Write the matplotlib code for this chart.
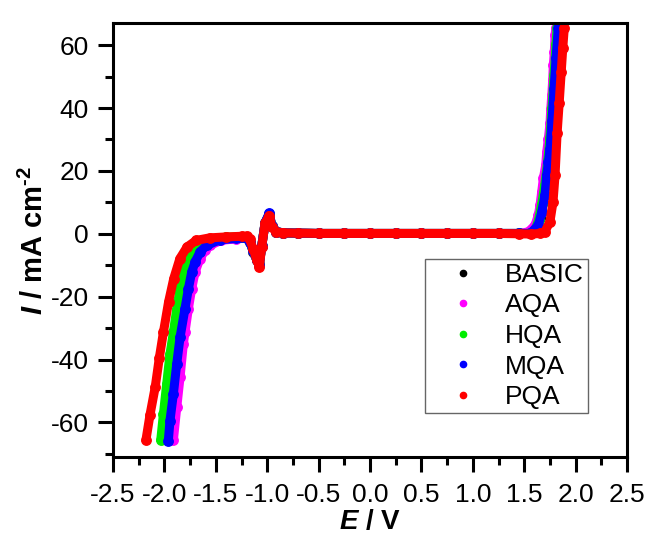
import matplotlib
matplotlib.use("Agg")
import matplotlib.pyplot as plt
from matplotlib.lines import Line2D
from matplotlib.ticker import MultipleLocator, FormatStrFormatter

plt.rcParams['font.family'] = ['Liberation Sans', 'DejaVu Sans']
plt.rcParams['axes.unicode_minus'] = False
plt.rcParams['mathtext.fontset'] = 'custom'
plt.rcParams['mathtext.rm'] = 'Liberation Sans:bold'
plt.rcParams['mathtext.bf'] = 'Liberation Sans:bold'
plt.rcParams['mathtext.it'] = 'Liberation Sans:italic'
plt.rcParams['mathtext.bfit'] = 'Liberation Sans:italic:bold'

# potentiodynamic curves, E in V, I in mA cm-2
names = ['BASIC', 'AQA', 'HQA', 'MQA', 'PQA']
colors = ['#000000', '#ff00ff', '#00ee00', '#0000ff', '#ff0000']

E_basic = [-1.972, -1.956, -1.923, -1.89, -1.858, -1.81, -1.777, -1.745, -1.712, -1.664, -1.60, -1.47, -1.30,
           -1.20, -1.17, -1.135, -1.10, -1.077, -1.054, -1.021, -0.98, -0.956, -0.91, -0.85, -0.70, -0.50, -0.25,
           0.0, 0.25, 0.50, 0.75, 1.0, 1.25, 1.45, 1.56, 1.62, 1.65, 1.68, 1.71, 1.74, 1.76, 1.78, 1.80, 1.815, 1.825]
I_basic = [-65.6, -59.4, -50.9, -41.3, -32.9, -23.8, -17.5, -12.2, -9.0, -5.8, -3.7, -1.9, -1.5,
           -1.3, -2.5, -5.8, -8.5, -9.5, -4.0, 3.5, 6.3, 2.5, 0.7, 0.3, 0.2, 0.1, 0.1,
           0.1, 0.1, 0.1, 0.1, 0.1, 0.1, 0.1, 0.1, 1.8, 5.0, 10.0, 16.5, 25.0, 33.0, 43.0, 54.0, 61.5, 65.6]

E_aqa = [-1.913, -1.88, -1.848, -1.816, -1.80, -1.767, -1.735, -1.702, -1.654, -1.605, -1.556, -1.45, -1.30,
         -1.20, -1.17, -1.135, -1.10, -1.077, -1.054, -1.021, -0.98, -0.956, -0.91, -0.85, -0.70, -0.50, -0.25,
         0.0, 0.25, 0.50, 0.75, 1.0, 1.25, 1.45, 1.54, 1.605, 1.637, 1.654, 1.670, 1.686, 1.709, 1.719, 1.735,
         1.751, 1.758, 1.768, 1.777, 1.783, 1.793, 1.800, 1.809]
I_aqa = [-65.6, -55.2, -45.6, -35.0, -31.3, -23.8, -17.5, -12.2, -7.9, -5.3, -3.7, -2.1, -1.6,
         -1.4, -2.5, -5.5, -8.5, -10.0, -4.0, 3.5, 6.3, 2.5, 0.7, 0.3, 0.2, 0.1, 0.1,
         0.1, 0.1, 0.1, 0.1, 0.1, 0.1, 0.1, 0.6, 2.7, 5.9, 9.1, 13.3, 17.6, 21.8, 26.0, 30.3,
         35.2, 39.6, 44.1, 48.9, 53.7, 57.9, 63.2, 65.6]

E_hqa = [-2.036, -2.01, -1.978, -1.946, -1.913, -1.88, -1.848, -1.816, -1.767, -1.719, -1.654, -1.55, -1.40,
         -1.25, -1.20, -1.17, -1.135, -1.10, -1.077, -1.054, -1.021, -0.98, -0.956, -0.91, -0.85, -0.70, -0.50,
         -0.25, 0.0, 0.25, 0.50, 0.75, 1.0, 1.25, 1.45, 1.56, 1.61, 1.64, 1.67, 1.70, 1.73, 1.75, 1.77, 1.79,
         1.81, 1.82]
I_hqa = [-65.6, -57.3, -47.7, -38.2, -31.3, -23.8, -17.5, -12.2, -7.9, -5.3, -3.1, -1.7, -1.1,
         -0.9, -1.2, -2.5, -5.5, -8.5, -10.0, -4.0, 3.5, 6.3, 2.5, 0.7, 0.3, 0.2, 0.1,
         0.1, 0.1, 0.1, 0.1, 0.1, 0.1, 0.1, 0.1, 0.1, 1.5, 4.5, 9.5, 15.5, 23.5, 30.5, 40.0, 50.5,
         60.5, 65.6]

E_mqa = [-1.962, -1.946, -1.913, -1.88, -1.848, -1.80, -1.767, -1.735, -1.702, -1.654, -1.589, -1.46, -1.30,
         -1.20, -1.17, -1.135, -1.10, -1.077, -1.054, -1.021, -0.98, -0.956, -0.91, -0.85, -0.70, -0.50, -0.25,
         0.0, 0.25, 0.50, 0.75, 1.0, 1.25, 1.45, 1.56, 1.637, 1.67, 1.702, 1.719, 1.735, 1.751, 1.77, 1.79,
         1.81, 1.832]
I_mqa = [-65.8, -59.4, -50.9, -41.3, -32.9, -23.8, -17.5, -12.2, -9.0, -5.8, -3.7, -1.9, -1.5,
         -1.4, -2.5, -5.5, -8.5, -10.0, -4.0, 3.5, 6.5, 2.5, 0.7, 0.3, 0.2, 0.1, 0.1,
         0.1, 0.1, 0.1, 0.1, 0.1, 0.1, 0.1, 0.1, 2.7, 6.9, 12.3, 18.6, 22.9, 27.0, 36.0, 46.0,
         56.0, 65.6]

E_pqa = [-2.18, -2.14, -2.09, -2.05, -2.01, -1.96, -1.91, -1.85, -1.78, -1.69, -1.56, -1.40, -1.25,
         -1.20, -1.17, -1.135, -1.10, -1.077, -1.054, -1.021, -0.98, -0.956, -0.91, -0.85, -0.70, -0.50, -0.25,
         0.0, 0.25, 0.50, 0.75, 1.0, 1.25, 1.45, 1.57, 1.65, 1.70, 1.75, 1.78, 1.80, 1.82, 1.84, 1.86, 1.875,
         1.89]
I_pqa = [-65.6, -57.5, -48.8, -39.5, -31.3, -21.7, -14.3, -7.9, -4.2, -2.1, -1.3, -1.0, -0.8,
         -0.8, -1.8, -5.0, -8.5, -10.5, -4.2, 3.3, 5.8, 2.2, 0.6, 0.3, 0.2, 0.1, 0.1,
         0.1, 0.1, 0.1, 0.1, 0.1, 0.1, 0.0, -0.1, 0.1, 0.6, 3.8, 10.1, 18.6, 32.0, 41.5, 51.5, 59.0,
         65.6]

E_all = [E_basic, E_aqa, E_hqa, E_mqa, E_pqa]
I_all = [I_basic, I_aqa, I_hqa, I_mqa, I_pqa]

fig = plt.figure(figsize=(6.46, 5.38), dpi=100)
ax = fig.add_axes([0.175, 0.1506, 0.7956, 0.8064])

for E, I, c in zip(E_all, I_all, colors):
    ax.plot(E, I, '-', color=c, lw=6.5, solid_capstyle='round', solid_joinstyle='round')
    ax.plot(E, I, 'o', color=c, ms=6.8, mec=c)

ax.set_xlim(-2.5, 2.5)
ax.set_ylim(-71, 67)
ax.xaxis.set_major_locator(MultipleLocator(0.5))
ax.xaxis.set_minor_locator(MultipleLocator(0.25))
ax.yaxis.set_major_locator(MultipleLocator(20))
ax.yaxis.set_minor_locator(MultipleLocator(10))
ax.xaxis.set_major_formatter(FormatStrFormatter('%.1f'))

for s in ax.spines.values():
    s.set_linewidth(2.2)
ax.tick_params(which='major', direction='out', length=10.5, width=2.2, labelsize=19)
ax.tick_params(axis='x', which='major', pad=8)
ax.tick_params(axis='y', which='major', pad=7)
ax.tick_params(which='minor', direction='out', length=5.5, width=2.2)

ax.set_xlabel(r'$\mathbfit{E}$ / V', fontsize=20, fontweight='bold', labelpad=2)
ax.set_ylabel(r'$\mathbfit{I}$ / mA cm$^{\text{-2}}$', fontsize=21, fontweight='bold', labelpad=1)

handles = [Line2D([], [], ls='none', marker='o', ms=4.5, color=c) for c in colors]
leg = ax.legend(handles, names, loc='lower right', bbox_to_anchor=(0.924, 0.101), fontsize=19,
                frameon=True, fancybox=False, edgecolor='#666666', framealpha=1,
                handletextpad=0.3, labelspacing=0.25, borderpad=0.15, handlelength=2.6,
                borderaxespad=0)
leg.get_frame().set_linewidth(1.0)

fig.savefig('out.png', dpi=100)
